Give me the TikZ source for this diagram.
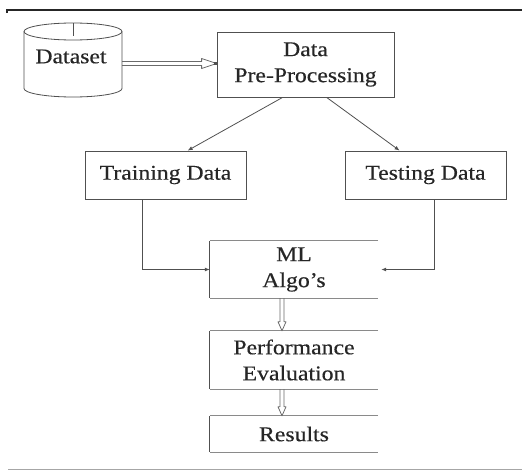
\documentclass[tikz,border=0pt]{standalone}
\usepackage{fontspec}
\setmainfont{Liberation Serif}[FakeStretch=1.13, FakeBold=0.4]
\usetikzlibrary{arrows.meta,calc}
\definecolor{ink}{HTML}{262626}
\definecolor{rule}{HTML}{505050}
\definecolor{soft}{HTML}{8A8A8A}
\definecolor{pipe}{HTML}{6A6A6A}
\tikzset{
  label text/.style={text=ink, font=\fontsize{21}{26}\selectfont, align=center, inner sep=0pt},
  stepbox/.style={label text, draw=rule, line width=0.8pt},
  openbox/.style={label text},
  flow/.style={draw=rule, line width=0.8pt, -{Latex[length=5pt,width=4pt]}},
  pipeline/.style={draw=pipe, line width=0.8pt, line join=round},
}
% hollow two-line arrow: #1 from, #2 to, #3 head length, #4 head half-width
\newcommand\hollowlink[4]{%
  \coordinate (hb) at ($(#2)!#3!(#1)$);
  \draw[pipeline]
    ($(#1)!2pt!90:(#2)$) -- ($(hb)!2pt!90:(#2)$) -- ($(hb)!#4!90:(#2)$)
    -- (#2)
    -- ($(hb)!#4!-90:(#2)$) -- ($(hb)!2pt!-90:(#2)$) -- ($(#1)!2pt!-90:(#2)$);
}
\begin{document}
\begin{tikzpicture}[x=1pt, y=-1pt]
\useasboundingbox (0,0) rectangle (522,471);

% header and footer rules
\draw[black!85, line width=1.4pt] (7,13) -- (7,10) -- (522,10);
\draw[black!35, line width=0.8pt] (8,469) -- (522,469);

% dataset drum
\draw[rule, line width=0.8pt] (73,31.5) ellipse[x radius=49, y radius=8.5];
\draw[rule, line width=0.8pt] (24,31.5) -- (24,88.5) arc[start angle=180, end angle=0, x radius=49, y radius=8.5] -- (122,31.5);
\draw[rule, line width=0.8pt] (73,23) -- (73,36);
\node[label text] (ds) at (71,56.5) {Dataset};
\coordinate (dsr) at (122,63.5);

% processing stages
\node[stepbox, minimum width=177pt, minimum height=65pt] (pre) at (305.5,64.5) {Data\\Pre-Processing};
\node[stepbox, minimum width=161pt, minimum height=48pt] (train) at (165.5,175) {Training Data};
\node[stepbox, minimum width=161pt, minimum height=48pt] (test) at (425.5,175) {Testing Data};
\node[openbox, minimum width=168pt, minimum height=57pt] (ml) at (294,269.5) {ML\\Algo's};
\node[openbox, minimum width=168pt, minimum height=58pt] (perf) at (294,360) {Performance\\Evaluation};
\node[openbox, minimum width=168pt, minimum height=36pt] (res) at (294,434) {Results};

% lower boxes are drawn without their right side
\foreach \b in {ml,perf,res}{
  \draw[soft, line width=0.9pt] (\b.north east) -- (\b.north west);
  \draw[rule, line width=0.9pt] (\b.north west) -- (\b.south west);
  \draw[soft, line width=0.9pt] (\b.south west) -- (\b.south east);
}

% connector end points
\coordinate (preIn) at (dsr -| pre.west);
\coordinate (mlOut) at ([xshift=-12pt]ml.south);
\coordinate (perfIn) at ([xshift=-12pt]perf.north);
\coordinate (perfOut) at ([xshift=-12pt]perf.south);
\coordinate (resIn) at ([xshift=-12pt]res.north);

% connectors
\hollowlink{dsr}{preIn}{15pt}{5pt}
\fill[rule] ([xshift=-3pt,yshift=-1.2pt]preIn) rectangle ([yshift=1.2pt]preIn);
\draw[flow] ([xshift=66pt]pre.south west) -- ([xshift=103pt]train.north west);
\draw[flow] ([xshift=110pt]pre.south west) -- ([xshift=55pt]test.north west);
\draw[flow] ([xshift=58pt]train.south west) |- (ml.west);
\draw[flow] ([xshift=90pt]test.south west) |- ([xshift=3pt]ml.east);
\hollowlink{mlOut}{perfIn}{9pt}{4pt}
\hollowlink{perfOut}{resIn}{9pt}{4pt}
\end{tikzpicture}
\end{document}
